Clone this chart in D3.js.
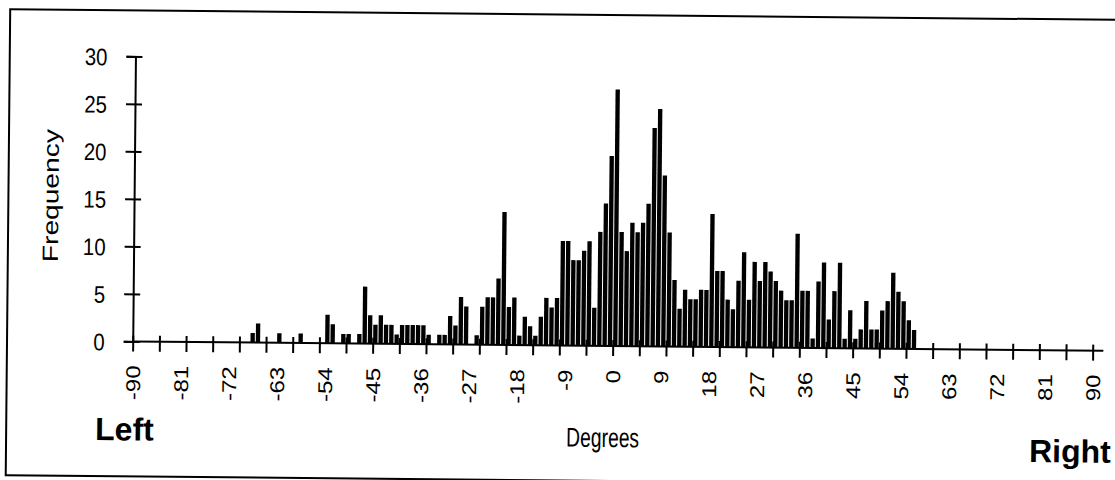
<!DOCTYPE html>
<html>
<head>
<meta charset="utf-8">
<script src="https://cdn.jsdelivr.net/npm/d3@7"></script>
<style>
  html, body { margin: 0; padding: 0; background: #fff; }
  svg { display: block; }
  text { font-family: Arial, "Liberation Sans", sans-serif; fill: #000; }
</style>
</head>
<body>
<svg id="chart" width="1115" height="480"></svg>
<script>
// histogram bins (degrees) that have a non-zero count, and their counts
const degrees = [
  -68, -67, -63, -59, -54, -53, -51, -50, -48, -47, -46, -45, -44, -43, -42, -41,
  -40, -39, -38, -37, -36, -35, -33, -32, -31, -30, -29, -28, -26, -25, -24, -23,
  -22, -21, -20, -19, -18, -17, -16, -15, -14, -13, -12, -11, -10, -9, -8, -7,
  -6, -5, -4, -3, -2, -1, 0, 1, 2, 3, 4, 5, 6, 7, 8, 9,
  10, 11, 12, 13, 14, 15, 16, 17, 18, 19, 20, 21, 22, 23, 24, 25,
  26, 27, 28, 29, 30, 31, 32, 33, 34, 35, 36, 37, 38, 39, 40, 41,
  42, 43, 44, 45, 46, 47, 48, 49, 50, 51, 52, 53, 54, 55, 56
];
const frequency = [
  1, 2, 1, 1, 3, 2, 1, 1, 1, 6, 3, 2, 3, 2, 2, 1,
  2, 2, 2, 2, 2, 1, 1, 1, 3, 2, 5, 4, 1, 4, 5, 5,
  7, 14, 4, 5, 1, 3, 2, 1, 3, 5, 4, 5, 11, 11, 9, 9,
  10, 11, 4, 12, 15, 20, 27, 12, 10, 13, 12, 13, 15, 23, 25, 18,
  12, 7, 4, 6, 5, 5, 6, 6, 14, 8, 8, 5, 4, 7, 10, 5,
  9, 7, 9, 8, 7, 6, 5, 5, 12, 6, 6, 1, 7, 9, 3, 6,
  9, 1, 4, 1, 2, 5, 2, 2, 4, 5, 8, 6, 5, 3, 2
];
const yTicks = [0, 5, 10, 15, 20, 25, 30];
const xTicks = d3.range(-90, 91, 5);
const xLabels = d3.range(-90, 91, 9);

const bins = degrees.map((d, i) => ({ deg: d, count: frequency[i] }));

const svg = d3.select('#chart');

// the scanned original is tilted a little; draw level and rotate the whole group
const root = svg.append('g').attr('transform', 'rotate(0.55, 612, 346)');

// frame
root.append('rect')
  .attr('x', 7).attr('y', 15)
  .attr('width', 1130).attr('height', 466)
  .attr('fill', 'none')
  .attr('stroke', '#000')
  .attr('stroke-width', 2);

const x = d3.scaleLinear().domain([-90, 90]).range([132.7, 1092.7]);
const y = d3.scaleLinear().domain([0, 30]).range([346, 61]);

// bars
root.append('g')
  .selectAll('rect')
  .data(bins)
  .join('rect')
  .attr('x', d => x(d.deg) + 0.4)
  .attr('width', d => x(d.deg + 1) - x(d.deg) - 1.0)
  .attr('y', d => y(d.count))
  .attr('height', d => y(0) - y(d.count))
  .attr('fill', '#000');

// y axis (cross ticks)
const yAxis = root.append('g')
  .attr('transform', `translate(${x(-90)},0)`)
  .call(d3.axisLeft(y).tickValues(yTicks).tickSize(9).tickFormat(''));
yAxis.select('.domain').attr('stroke-width', 2);
yAxis.selectAll('.tick line').attr('x2', -9).attr('x1', 7).attr('stroke-width', 2);

yAxis.selectAll('.tick').append('text')
  .attr('transform', 'translate(-28,0) scale(0.85,1)')
  .attr('dy', '0.36em')
  .attr('text-anchor', 'end')
  .style('font-size', '24px')
  .text(d => d);

// x axis ticks every 5 degrees
const xAxis = root.append('g')
  .attr('transform', `translate(0,${y(0)})`)
  .call(d3.axisBottom(x).tickValues(xTicks).tickSize(10).tickFormat(''));
xAxis.select('.domain').remove();
xAxis.selectAll('.tick line').attr('y1', -6).attr('stroke-width', 2);
xAxis.append('line')
  .attr('x1', x(-90)).attr('x2', x(92))
  .attr('stroke', '#000').attr('stroke-width', 2);

// x labels every 9 degrees, rotated
const xLab = root.append('g')
  .attr('transform', `translate(0,${y(0)})`)
  .call(d3.axisBottom(x).tickValues(xLabels).tickSize(0).tickFormat(''));
xLab.select('.domain').remove();
xLab.selectAll('.tick').append('text')
  .attr('transform', 'translate(0,24) rotate(-90) scale(1.2,1)')
  .attr('dy', '0.36em')
  .attr('text-anchor', 'end')
  .style('font-size', '20px')
  .text(d => d);

// titles
root.append('text')
  .attr('transform', 'translate(57,201) rotate(-90)')
  .attr('text-anchor', 'middle')
  .attr('textLength', 133)
  .attr('lengthAdjust', 'spacingAndGlyphs')
  .style('font-size', '22px')
  .text('Frequency');

root.append('text')
  .attr('x', 567).attr('y', 447)
  .attr('textLength', 73)
  .attr('lengthAdjust', 'spacingAndGlyphs')
  .style('font-size', '27px')
  .text('Degrees');

root.append('text')
  .attr('x', 96).attr('y', 445)
  .style('font-size', '32px')
  .style('font-weight', 'bold')
  .text('Left');

root.append('text')
  .attr('x', 1030).attr('y', 458)
  .style('font-size', '32px')
  .style('font-weight', 'bold')
  .text('Right');
</script>
</body>
</html>
